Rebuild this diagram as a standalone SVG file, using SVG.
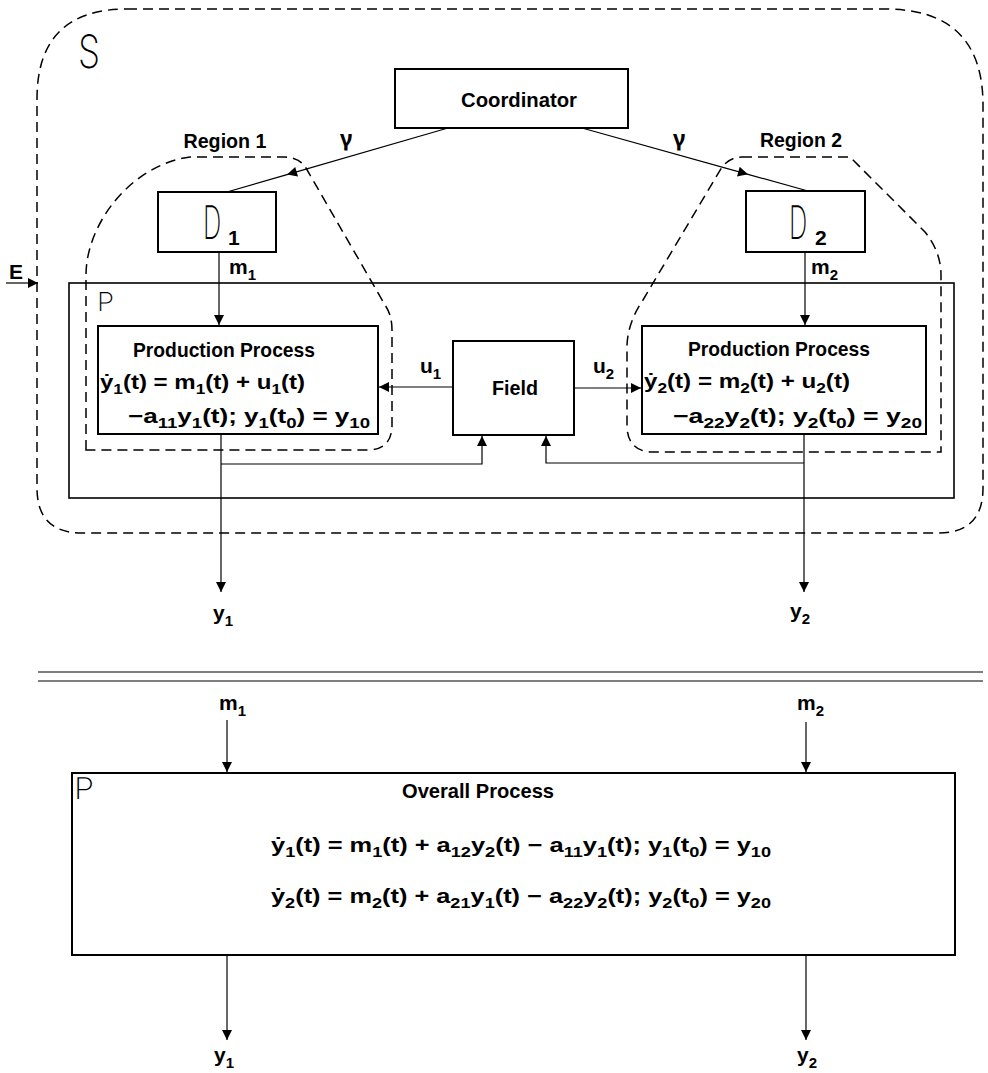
<svg xmlns="http://www.w3.org/2000/svg" width="988" height="1073" viewBox="0 0 988 1073">
<style>
.box{fill:#fff;stroke:#000;stroke-width:2}
.frame{fill:none;stroke:#000;stroke-width:1.6}
.ln{fill:none;stroke:#000;stroke-width:1.2}
.dash{fill:none;stroke:#000;stroke-width:1.5;stroke-dasharray:10 6}
.t{font-family:"Liberation Sans","DejaVu Sans",sans-serif;font-weight:bold;font-size:21px;fill:#000}
.g{font-family:"Noto Sans","DejaVu Sans",sans-serif;font-weight:bold;font-size:22px;fill:#000}
.sub{font-size:15px}
.thin{font-family:"Inter","Noto Sans","DejaVu Sans",sans-serif;font-weight:200;fill:#000;text-rendering:geometricPrecision}
</style>
<defs>
<marker id="ah" viewBox="0 0 10 10" refX="10" refY="5" markerWidth="11" markerHeight="10" markerUnits="userSpaceOnUse" orient="auto"><path d="M0,0 L10,5 L0,10 z" fill="#000"/></marker>
</defs>
<rect width="988" height="1073" fill="#fff"/>

<g id="system-S">
<path class="dash" d="M127,9 L885,9 Q983,9 983,105 L983,488 Q983,533 938,533 L82,533 Q37,533 37,488 L37,99 Q37,9 127,9 Z"/>
<text class="thin" x="78" y="68" font-size="46" textLength="22" lengthAdjust="spacingAndGlyphs">S</text>
</g>

<g id="process-P">
<rect class="frame" x="69" y="283" width="885" height="215"/>
<text class="thin" x="97" y="311" font-size="26" textLength="17" lengthAdjust="spacingAndGlyphs">P</text>
</g>

<g id="region-1">
<path class="dash" d="M86,450 L86,275 C86,225 130,165 190,157 L285,157 Q300,158 306,168 L385,305 Q392,315 392,330 L392,425 Q392,450 367,450 Z"/>
<text class="t" x="225" y="148" font-size="20" text-anchor="middle" textLength="83" lengthAdjust="spacingAndGlyphs">Region 1</text>
</g>

<g id="region-2">
<path class="dash" d="M742,157 L850,157 L925,232 Q941,252 941,275 L941,452 L650,452 Q627,450 627,425 L627,345 Q628,322 643,300 L722,167 Q730,157 742,157 Z"/>
<text class="t" x="801" y="147" font-size="20" text-anchor="middle" textLength="82" lengthAdjust="spacingAndGlyphs">Region 2</text>
</g>

<g id="coordinator">
<rect class="box" x="395" y="69" width="233" height="59"/>
<text class="t" x="519" y="107" font-size="22" text-anchor="middle" textLength="116" lengthAdjust="spacingAndGlyphs">Coordinator</text>
</g>

<g id="D1">
<rect class="box" x="158" y="192" width="118" height="60"/>
<text class="thin" transform="translate(203,239) scale(0.85,1.55)" x="0" y="0" font-size="30">D</text>
<text class="t" x="228" y="245" font-size="17">1</text>
</g>

<g id="D2">
<rect class="box" x="746" y="191" width="119" height="61"/>
<text class="thin" transform="translate(789,239) scale(0.85,1.55)" x="0" y="0" font-size="30">D</text>
<text class="t" x="815" y="245" font-size="17">2</text>
</g>

<g id="production-1">
<rect class="box" x="98" y="326" width="280" height="108"/>
<text class="t" x="224" y="357" text-anchor="middle" textLength="182" lengthAdjust="spacingAndGlyphs">Production Process</text>
<text class="t" x="100" y="389" textLength="205" lengthAdjust="spacingAndGlyphs">ẏ<tspan class="sub" dy="5">1</tspan><tspan dy="-5">(t) = m</tspan><tspan class="sub" dy="5">1</tspan><tspan dy="-5">(t) + u</tspan><tspan class="sub" dy="5">1</tspan><tspan dy="-5">(t)</tspan></text>
<text class="t" x="128" y="423" textLength="242" lengthAdjust="spacingAndGlyphs">−a<tspan class="sub" dy="5">11</tspan><tspan dy="-5">y</tspan><tspan class="sub" dy="5">1</tspan><tspan dy="-5">(t);  y</tspan><tspan class="sub" dy="5">1</tspan><tspan dy="-5">(t</tspan><tspan class="sub" dy="5">0</tspan><tspan dy="-5">) = y</tspan><tspan class="sub" dy="5">10</tspan></text>
</g>

<g id="field">
<rect class="box" x="453" y="341" width="121" height="94"/>
<text class="t" x="515" y="395" font-size="22" text-anchor="middle" textLength="46" lengthAdjust="spacingAndGlyphs">Field</text>
</g>

<g id="production-2">
<rect class="box" x="642" y="326" width="284" height="108"/>
<text class="t" x="779" y="356" text-anchor="middle" textLength="182" lengthAdjust="spacingAndGlyphs">Production Process</text>
<text class="t" x="644" y="388" textLength="206" lengthAdjust="spacingAndGlyphs">ẏ<tspan class="sub" dy="5">2</tspan><tspan dy="-5">(t) = m</tspan><tspan class="sub" dy="5">2</tspan><tspan dy="-5">(t) + u</tspan><tspan class="sub" dy="5">2</tspan><tspan dy="-5">(t)</tspan></text>
<text class="t" x="673" y="423" textLength="249" lengthAdjust="spacingAndGlyphs">−a<tspan class="sub" dy="5">22</tspan><tspan dy="-5">y</tspan><tspan class="sub" dy="5">2</tspan><tspan dy="-5">(t);   y</tspan><tspan class="sub" dy="5">2</tspan><tspan dy="-5">(t</tspan><tspan class="sub" dy="5">0</tspan><tspan dy="-5">) = y</tspan><tspan class="sub" dy="5">20</tspan></text>
</g>

<g id="separator">
<line class="ln" x1="38" y1="672" x2="983" y2="672"/>
<line class="ln" x1="38" y1="681" x2="983" y2="681"/>
</g>

<g id="overall-process">
<rect class="box" x="72" y="773" width="883" height="182"/>
<text class="thin" x="74" y="799" font-size="30" textLength="20" lengthAdjust="spacingAndGlyphs">P</text>
<text class="t" x="478" y="798" font-size="20" text-anchor="middle" textLength="152" lengthAdjust="spacingAndGlyphs">Overall Process</text>
<text class="t" x="271" y="852" textLength="500" lengthAdjust="spacingAndGlyphs">ẏ<tspan class="sub" dy="5">1</tspan><tspan dy="-5">(t) = m</tspan><tspan class="sub" dy="5">1</tspan><tspan dy="-5">(t) + a</tspan><tspan class="sub" dy="5">12</tspan><tspan dy="-5">y</tspan><tspan class="sub" dy="5">2</tspan><tspan dy="-5">(t) − a</tspan><tspan class="sub" dy="5">11</tspan><tspan dy="-5">y</tspan><tspan class="sub" dy="5">1</tspan><tspan dy="-5">(t);   y</tspan><tspan class="sub" dy="5">1</tspan><tspan dy="-5">(t</tspan><tspan class="sub" dy="5">0</tspan><tspan dy="-5">) = y</tspan><tspan class="sub" dy="5">10</tspan></text>
<text class="t" x="271" y="903" textLength="500" lengthAdjust="spacingAndGlyphs">ẏ<tspan class="sub" dy="5">2</tspan><tspan dy="-5">(t) = m</tspan><tspan class="sub" dy="5">2</tspan><tspan dy="-5">(t) + a</tspan><tspan class="sub" dy="5">21</tspan><tspan dy="-5">y</tspan><tspan class="sub" dy="5">1</tspan><tspan dy="-5">(t) − a</tspan><tspan class="sub" dy="5">22</tspan><tspan dy="-5">y</tspan><tspan class="sub" dy="5">2</tspan><tspan dy="-5">(t);   y</tspan><tspan class="sub" dy="5">2</tspan><tspan dy="-5">(t</tspan><tspan class="sub" dy="5">0</tspan><tspan dy="-5">) = y</tspan><tspan class="sub" dy="5">20</tspan></text>
</g>

<g id="connectors">
<path class="ln" d="M448,128 L287,174.6 L227,192" marker-mid="url(#ah)"/>
<path class="ln" d="M582,128 L748,174.3 L808,191" marker-mid="url(#ah)"/>
<path class="ln" d="M219,252 L219,325" marker-end="url(#ah)"/>
<path class="ln" d="M805,252 L805,325" marker-end="url(#ah)"/>
<path class="ln" d="M6,283 L38,283" marker-end="url(#ah)"/>
<path class="ln" d="M453,387 L379,387" marker-end="url(#ah)"/>
<path class="ln" d="M574,388 L641,388" marker-end="url(#ah)"/>
<path class="ln" d="M221,464 L482,464 L482,436" marker-end="url(#ah)"/>
<path class="ln" d="M804,463 L546,463 L546,436" marker-end="url(#ah)"/>
<path class="ln" d="M221,434 L221,592" marker-end="url(#ah)"/>
<path class="ln" d="M804,434 L804,592" marker-end="url(#ah)"/>
<path class="ln" d="M227,720 L227,772" marker-end="url(#ah)"/>
<path class="ln" d="M806,722 L806,772" marker-end="url(#ah)"/>
<path class="ln" d="M227,955 L227,1040" marker-end="url(#ah)"/>
<path class="ln" d="M806,955 L806,1040" marker-end="url(#ah)"/>
</g>

<g id="labels">
<text class="g" x="340" y="146">γ</text>
<text class="g" x="673" y="146">γ</text>
<text class="t" x="229" y="274" font-size="20">m<tspan class="sub" dy="6">1</tspan></text>
<text class="t" x="811" y="274" font-size="20">m<tspan class="sub" dy="6">2</tspan></text>
<text class="t" x="9" y="279" font-size="21">E</text>
<text class="t" x="420" y="373" font-size="20">u<tspan class="sub" dy="6">1</tspan></text>
<text class="t" x="593" y="373" font-size="20">u<tspan class="sub" dy="6">2</tspan></text>
<text class="t" x="213" y="620" font-size="20">y<tspan class="sub" dy="6">1</tspan></text>
<text class="t" x="790" y="618" font-size="20">y<tspan class="sub" dy="6">2</tspan></text>
<text class="t" x="219" y="710" font-size="20">m<tspan class="sub" dy="6">1</tspan></text>
<text class="t" x="797" y="710" font-size="20">m<tspan class="sub" dy="6">2</tspan></text>
<text class="t" x="214" y="1062" font-size="20">y<tspan class="sub" dy="6">1</tspan></text>
<text class="t" x="797" y="1062" font-size="20">y<tspan class="sub" dy="6">2</tspan></text>
</g>
</svg>
